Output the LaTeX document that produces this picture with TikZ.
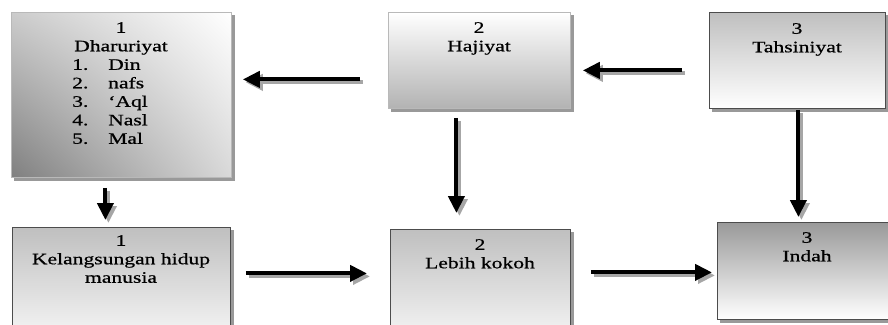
\documentclass[tikz,border=0pt]{standalone}
\usepackage{fontspec}
\setmainfont{Liberation Serif}[FakeStretch=1.35,FakeBold=0.7]
\usetikzlibrary{arrows.meta,shadings,backgrounds}
\newcommand\numitem[2]{\makebox[36pt][l]{#1}#2}
\begin{document}
\begin{tikzpicture}[x=1pt,y=-1pt,
  box/.style={rectangle, inner sep=0pt, anchor=north west, draw=black!70, line width=0.8pt},
  lightbox/.style={box, draw=gray!55},
  boxshadow/.style={fill=gray!80},
  lbl/.style={inner sep=0pt, anchor=north, align=center, font=\fontsize{16}{18.5}\selectfont},
  arr/.style={line width=4pt, -{Triangle[length=17pt,width=16pt]}},
  arrsh/.style={arr, draw=gray!70}
]
\useasboundingbox (0,0) rectangle (888,324);
\clip (0,0) rectangle (888,324);
% boxes
\node[lightbox, minimum width=220pt, minimum height=165pt,
  upper left=gray!40, upper right=white, lower left=gray!100, lower right=gray!30] (d) at (11,12) {};
\node[lightbox, minimum width=182pt, minimum height=96pt,
  top color=white, bottom color=gray!60] (h) at (388,12) {};
\node[box, minimum width=176pt, minimum height=96pt,
  top color=gray!50, bottom color=white] (t) at (709,12) {};
\node[box, minimum width=218pt, minimum height=130pt,
  top color=gray!50, bottom color=white] (k) at (12,227) {};
\node[box, minimum width=180pt, minimum height=130pt,
  top color=gray!50, bottom color=white] (l) at (390,229) {};
\node[box, minimum width=180pt, minimum height=97pt,
  top color=gray!80, bottom color=white] (i) at (717,222) {};
% box shadows
\begin{scope}[on background layer]
  \foreach \b in {d,h,t,k,l,i}
    \fill[boxshadow] ([shift={(3,3)}]\b.north west) rectangle ([shift={(3,3)}]\b.south east);
\end{scope}
% texts
\node[lbl] (dt) at (121,22) {1\\Dharuriyat};
\node[lbl, anchor=north west, align=left] (dl) at (72,59)
  {\numitem{1.}{Din}\\\numitem{2.}{nafs}\\\numitem{3.}{‘Aql}\\\numitem{4.}{Nasl}\\\numitem{5.}{Mal}};
\node[lbl] (ht) at (479,22) {2\\Hajiyat};
\node[lbl] (tt) at (797,23) {3\\Tahsiniyat};
\node[lbl] (kt) at (121,235) {1\\Kelangsungan hidup\\manusia};
\node[lbl] (lt) at (480,239) {2\\Lebih kokoh};
\node[lbl] (it) at (807,232) {3\\Indah};
% arrow shadows
\begin{scope}[arrsh]
  \draw ([shift={(-25,22)}]h.west) -- ([shift={(14,-12.5)}]d.east);
  \draw ([shift={(-24,13)}]t.west) -- ([shift={(15,13)}]h.east);
  \draw ([shift={(-13,13)}]d.south) -- ([shift={(-13,-4)}]k.north);
  \draw ([shift={(-20,12)}]h.south) -- ([shift={(-21,-13)}]l.north);
  \draw ([shift={(4,4)}]t.south) -- ([shift={(-6,-2)}]i.north);
  \draw ([shift={(18,-16)}]k.east) -- ([shift={(-20,-18)}]l.west);
  \draw ([shift={(23,-19)}]l.east) -- ([shift={(-2,4.5)}]i.west);
\end{scope}
% arrows
\begin{scope}[arr]
  \draw ([shift={(-28,19)}]h.west) -- ([shift={(11,-15.5)}]d.east);
  \draw ([shift={(-27,10)}]t.west) -- ([shift={(12,10)}]h.east);
  \draw ([shift={(-16,10)}]d.south) -- ([shift={(-16,-7)}]k.north);
  \draw ([shift={(-23,9)}]h.south) -- ([shift={(-24,-16)}]l.north);
  \draw ([shift={(1,1)}]t.south) -- ([shift={(-9,-5)}]i.north);
  \draw ([shift={(15,-19)}]k.east) -- ([shift={(-23,-21)}]l.west);
  \draw ([shift={(20,-22)}]l.east) -- ([shift={(-5,1.5)}]i.west);
\end{scope}
\end{tikzpicture}
\end{document}
